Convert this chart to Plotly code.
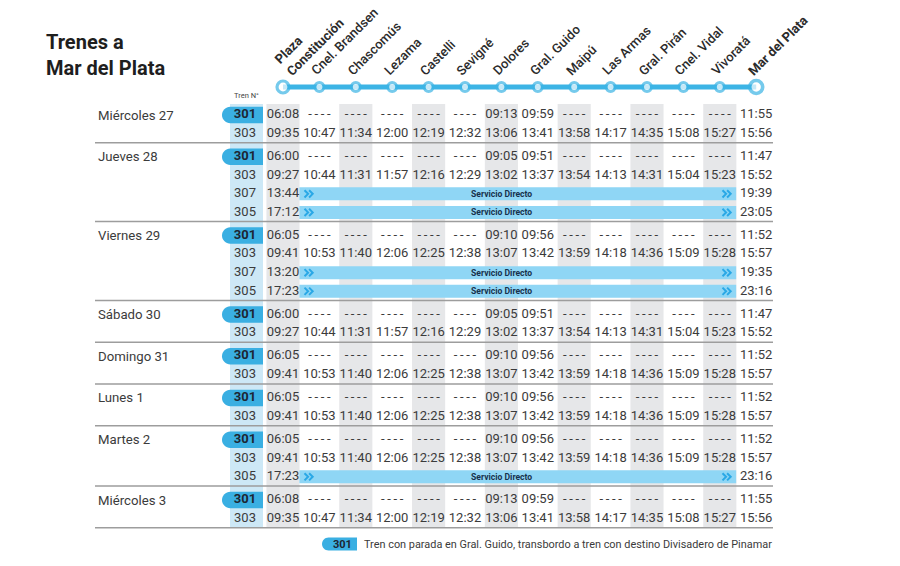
import plotly.graph_objects as go

# ---------------- data ----------------
stations = ["Plaza<br>Constitución", "Cnel. Brandsen", "Chascomús", "Lezama", "Castelli",
            "Sevigné", "Dolores", "Gral. Guido", "Maipú", "Las Armas", "Gral. Pirán",
            "Cnel. Vidal", "Vivoratá", "Mar del Plata"]

D = "----"
t301_a = ["06:08", D, D, D, D, D, "09:13", "09:59", D, D, D, D, D, "11:55"]
t303_a = ["09:35", "10:47", "11:34", "12:00", "12:19", "12:32", "13:06", "13:41", "13:58", "14:17", "14:35", "15:08", "15:27", "15:56"]
t301_b = ["06:00", D, D, D, D, D, "09:05", "09:51", D, D, D, D, D, "11:47"]
t303_b = ["09:27", "10:44", "11:31", "11:57", "12:16", "12:29", "13:02", "13:37", "13:54", "14:13", "14:31", "15:04", "15:23", "15:52"]
t301_c = ["06:05", D, D, D, D, D, "09:10", "09:56", D, D, D, D, D, "11:52"]
t303_c = ["09:41", "10:53", "11:40", "12:06", "12:25", "12:38", "13:07", "13:42", "13:59", "14:18", "14:36", "15:09", "15:28", "15:57"]
direct_307_b = ["13:44", "19:39"]
direct_305_b = ["17:12", "23:05"]
direct_307_c = ["13:20", "19:35"]
direct_305_c = ["17:23", "23:16"]

days = ["Miércoles 27", "Jueves 28", "Viernes 29", "Sábado 30", "Domingo 31", "Lunes 1", "Martes 2", "Miércoles 3"]
day_trains = [
    [("301", t301_a), ("303", t303_a)],
    [("301", t301_b), ("303", t303_b), ("307", direct_307_b), ("305", direct_305_b)],
    [("301", t301_c), ("303", t303_c), ("307", direct_307_c), ("305", direct_305_c)],
    [("301", t301_b), ("303", t303_b)],
    [("301", t301_c), ("303", t303_c)],
    [("301", t301_c), ("303", t303_c)],
    [("301", t301_c), ("303", t303_c), ("305", direct_305_c)],
    [("301", t301_a), ("303", t303_a)],
]
title_lines = ["Trenes a", "Mar del Plata"]
direct_label = "Servicio Directo"
footer_text = "Tren con parada en Gral. Guido, transbordo a tren con destino Divisadero de Pinamar"

# ---------------- layout constants ----------------
W, H = 900, 566
X0, DX = 283.0, 36.4          # pixel of station 0, pixel step between stations
def px(xp):
    return (xp - X0) / DX

LINE_Y = 87
Y_FIRST, STEP, GAP = 115.0, 18.55, 23.2
BLUE = "#3cb4e5"
PILL = "#3aafe2"
LIGHT = "#cde8f6"
DIRECT = "#8fd6f5"
GRAY = "#e6e7e9"
TXT = "#3b3b3b"
FONT = "Roboto"

def show(t):
    return "-&#8201;-&#8201;-&#8201;-" if t == D else t

rows = []
seps = []
y = Y_FIRST
for g, trains in enumerate(day_trains):
    for k, (num, times) in enumerate(trains):
        rows.append((y, num, times, g, k == 0))
        y += STEP
    seps.append(y - STEP + 9.2)
    y += GAP - STEP

TOP = 104
BOTTOM = seps[-1]
n = len(stations)

shapes = []
for i in range(0, n - 1, 2):
    shapes.append(dict(type="rect", xref="x", yref="y", x0=i - 0.455, x1=i + 0.455,
                       y0=TOP, y1=BOTTOM, fillcolor=GRAY, line_width=0, layer="below"))
shapes.append(dict(type="rect", xref="x", yref="y", x0=px(230), x1=px(263),
                   y0=TOP, y1=BOTTOM, fillcolor=LIGHT, line_width=0, layer="below"))

def pill_path(xl, xr, cy, h):
    r = h / 2.0
    k = 0.5523 * r
    pts = [
        f"M {px(xr)},{cy - r}",
        f"L {px(xl + r)},{cy - r}",
        f"C {px(xl + r - k)},{cy - r} {px(xl)},{cy - k} {px(xl)},{cy}",
        f"C {px(xl)},{cy + k} {px(xl + r - k)},{cy + r} {px(xl + r)},{cy + r}",
        f"L {px(xr)},{cy + r} Z",
    ]
    return " ".join(pts)

def chevrons_path(xl, cy, w=3.6, h=3.6, gap=4.6):
    parts = []
    for j in range(2):
        x = xl + j * gap
        parts.append(f"M {px(x)},{cy - h} L {px(x + w)},{cy} L {px(x)},{cy + h}")
    return " ".join(parts)

annotations = []
time_x, time_y, time_t = [], [], []
num_x, num_y, num_t = [], [], []
b_x, b_y, b_t = [], [], []

for (ry, num, times, g, first) in rows:
    if first:
        annotations.append(dict(x=px(96), y=ry, xref="x", yref="y", text=days[g],
                                showarrow=False, xanchor="left", yanchor="middle",
                                font=dict(family=FONT, size=13.2, color=TXT)))
    if num == "301":
        shapes.append(dict(type="path", xref="x", yref="y", path=pill_path(222, 263, ry, 16.5),
                           fillcolor=PILL, line_width=0, layer="below"))
        b_x.append(px(245)); b_y.append(ry); b_t.append(num)
    else:
        num_x.append(px(245)); num_y.append(ry); num_t.append(num)
    if len(times) == n:
        for i, t in enumerate(times):
            time_x.append(i); time_y.append(ry); time_t.append(show(t))
    else:
        time_x += [0, n - 1]; time_y += [ry, ry]; time_t += [times[0], times[1]]
        shapes.append(dict(type="rect", xref="x", yref="y", x0=0.45, x1=n - 1.55,
                           y0=ry - 6.5, y1=ry + 6.5, fillcolor=DIRECT, line_width=0, layer="below"))
        annotations.append(dict(x=(n - 2) / 2.0, y=ry, xref="x", yref="y", text="<b>" + direct_label + "</b>",
                                showarrow=False, xanchor="center", yanchor="middle",
                                font=dict(family=FONT, size=8.6, color="#17324d")))
        for xl in (304.5, 722.5):
            shapes.append(dict(type="path", xref="x", yref="y", path=chevrons_path(xl, ry),
                               line=dict(color="#2aa8e6", width=2)))

for sy in seps:
    shapes.append(dict(type="line", xref="x", yref="y", x0=px(95), x1=px(773), y0=sy, y1=sy,
                       line=dict(color="#9d9d9d", width=1.5)))

fig = go.Figure()
fig.add_trace(go.Scatter(x=list(range(n)), y=[LINE_Y] * n, mode="lines",
                         line=dict(color=BLUE, width=5), hoverinfo="skip"))
sizes = [12] + [9] * (n - 2) + [13]
lw = [3.2] + [3] * (n - 2) + [3.6]
fig.add_trace(go.Scatter(x=list(range(n)), y=[LINE_Y] * n, mode="markers",
                         marker=dict(size=sizes, color="white", line=dict(color=BLUE, width=lw)),
                         hoverinfo="skip"))
fig.add_trace(go.Scatter(x=time_x, y=time_y, text=time_t, mode="text",
                         textfont=dict(family=FONT, size=13, color=TXT), hoverinfo="skip"))
fig.add_trace(go.Scatter(x=num_x, y=num_y, text=num_t, mode="text",
                         textfont=dict(family=FONT, size=13, color=TXT), hoverinfo="skip"))
fig.add_trace(go.Scatter(x=b_x, y=b_y, text=["<b>%s</b>" % t for t in b_t], mode="text",
                         textfont=dict(family=FONT, size=13, color="#1d2633"), hoverinfo="skip"))

for i, s in enumerate(stations):
    bold = i in (0, n - 1)
    annotations.append(dict(x=i, y=LINE_Y - 6, xref="x", yref="y",
                            text=("<b>%s</b>" % s) if bold else s,
                            showarrow=False, textangle=-45, xanchor="left", yanchor="bottom",
                            xshift=-14, align="left",
                            font=dict(family=FONT, size=13, color="#2b2b2b",
                                      weight=700 if bold else 500)))

annotations.append(dict(x=px(44), y=55, xref="x", yref="y",
                        text="<b>" + "<br>".join(title_lines) + "</b>", showarrow=False,
                        xanchor="left", yanchor="middle", align="left",
                        font=dict(family=FONT, size=20, color="#1e1e1e")))
annotations.append(dict(x=px(246), y=95, xref="x", yref="y", text="Tren N°", showarrow=False,
                        xanchor="center", yanchor="middle", font=dict(family=FONT, size=7.5, color="#444")))

FY = 544
shapes.append(dict(type="path", xref="x", yref="y", path=pill_path(322, 357, FY, 13),
                   fillcolor=PILL, line_width=0, layer="below"))
annotations.append(dict(x=px(342), y=FY, xref="x", yref="y", text="<b>301</b>", showarrow=False,
                        xanchor="center", yanchor="middle", font=dict(family=FONT, size=11, color="#1d2633")))
annotations.append(dict(x=px(362), y=FY, xref="x", yref="y", text=footer_text, showarrow=False,
                        xanchor="left", yanchor="middle", font=dict(family=FONT, size=10.9, color=TXT)))

fig.update_layout(
    width=W, height=H, margin=dict(l=0, r=0, t=0, b=0),
    paper_bgcolor="white", plot_bgcolor="white", showlegend=False,
    xaxis=dict(range=[px(0), px(W)], visible=False, fixedrange=True),
    yaxis=dict(range=[H, 0], visible=False, fixedrange=True),
    shapes=shapes, annotations=annotations, hovermode=False,
)
fig.write_html("out.html", config={"displayModeBar": False},
               post_script="document.body.style.margin='0px';")
